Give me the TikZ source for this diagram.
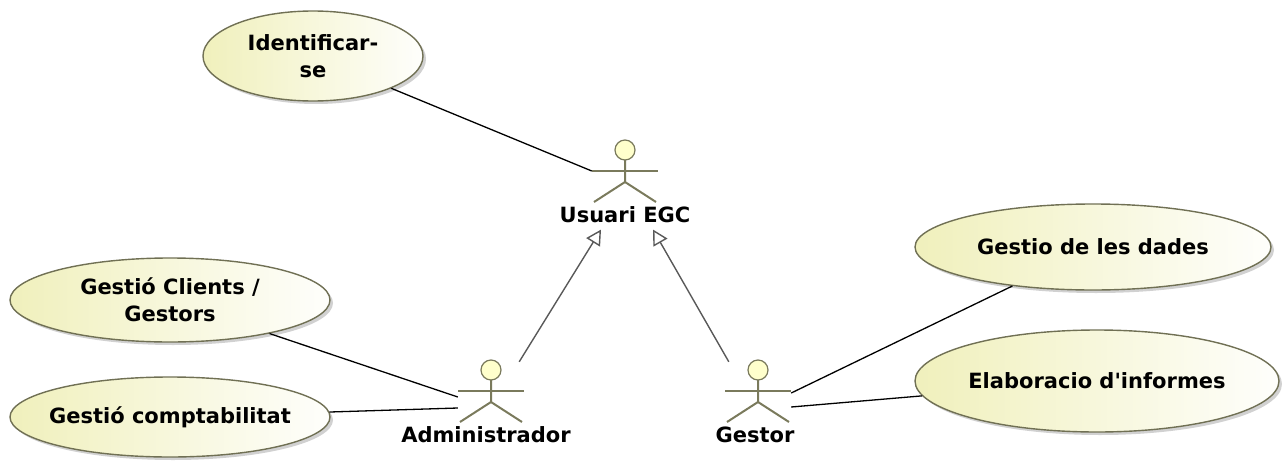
\documentclass[tikz,border=0pt]{standalone}
\usepackage{fontspec}
\setmainfont{DejaVu Sans}
\usepackage{tikz}
\usetikzlibrary{ arrows.meta, calc, positioning, shapes.geometric, shadows }
\definecolor{ucfill}{RGB}{240,240,188}
\definecolor{ucline}{RGB}{112,112,84}
\definecolor{actline}{RGB}{122,122,92}
\definecolor{headfill}{RGB}{255,255,204}
\tikzset{
x=1pt, y=-1pt, % pixel-like units, y runs down
every node/.style={font=\bfseries\fontsize{21}{27}\selectfont},
usecase/.style={ellipse, draw=ucline, line width=1.4pt, left color=ucfill, right color=white!95!ucfill,
  inner xsep=-12pt, inner ysep=0pt, align=center,
  drop shadow={shadow xshift=3pt, shadow yshift=-3pt, fill=black!30, opacity=.6}}, % use case bubble
actor/.style={rectangle, minimum width=66pt, minimum height=64pt, inner sep=0pt,
  path picture={
    \begin{scope}[shift={(path picture bounding box.center)}]
    \draw[actline, line width=2.2pt] (-33,0) -- (33,0); % arms
    \draw[actline, line width=2pt] (0,-11) -- (0,11) (-31,31) -- (0,11) -- (31,31); % body and legs
    \draw[actline, line width=1.2pt, fill=headfill] (0,-21) circle[radius=10pt]; % head
    \end{scope}}},
actlabel/.style={inner sep=0pt, text height=15pt, text depth=4pt, below=4pt of #1},
assoc/.style={draw=black, line width=1.3pt},
gen/.style={draw=black!65, line width=1.4pt, -{Triangle[open, length=15pt, width=16pt, fill=white]}},
}
\begin{document}
\begin{tikzpicture}
  \useasboundingbox (0,0) rectangle (1282,463);
  \node[usecase, minimum width=220pt, minimum height=90pt] (ident) at (313,56) {Identificar-\\se};
  \node[usecase, minimum width=320pt, minimum height=84pt] (clients) at (170,300) {Gestió Clients /\\Gestors};
  \node[usecase, minimum width=320pt, minimum height=80pt] (compt) at (170,417) {Gestió comptabilitat};
  \node[usecase, minimum width=356pt, minimum height=86pt] (dades) at (1093,247) {Gestio de les dades};
  \node[usecase, minimum width=364pt, minimum height=102pt] (informes) at (1097,381) {Elaboracio d\textquotesingle informes};

  \node[actor] (usr) at (625,171) {};
  \node[actor] (adm) at (491,391) {};
  \node[actor] (gst) at (758,391) {};
  \node[actlabel=usr] (usrlbl) {Usuari EGC};
  \node[actlabel=adm, xshift=-5pt] (admlbl) {Administrador};
  \node[actlabel=gst, xshift=-3pt] (gstlbl) {Gestor};

  \path[assoc]
  (ident) edge (usr.west)
  (clients) edge ([yshift=-6pt]adm.west)
  (compt) edge ([yshift=-17pt]adm.west)
  (dades) edge ([yshift=-2pt]gst.east)
  (informes) edge ([yshift=-16pt]gst.east);

  \draw[gen] ([xshift=-5pt,yshift=-3pt]adm.north east) -- ([xshift=-24pt,yshift=-3pt]usrlbl.south);
  \draw[gen] ([xshift=4pt,yshift=-3pt]gst.north west) -- ([xshift=28pt,yshift=-3pt]usrlbl.south);
\end{tikzpicture}
\end{document}
